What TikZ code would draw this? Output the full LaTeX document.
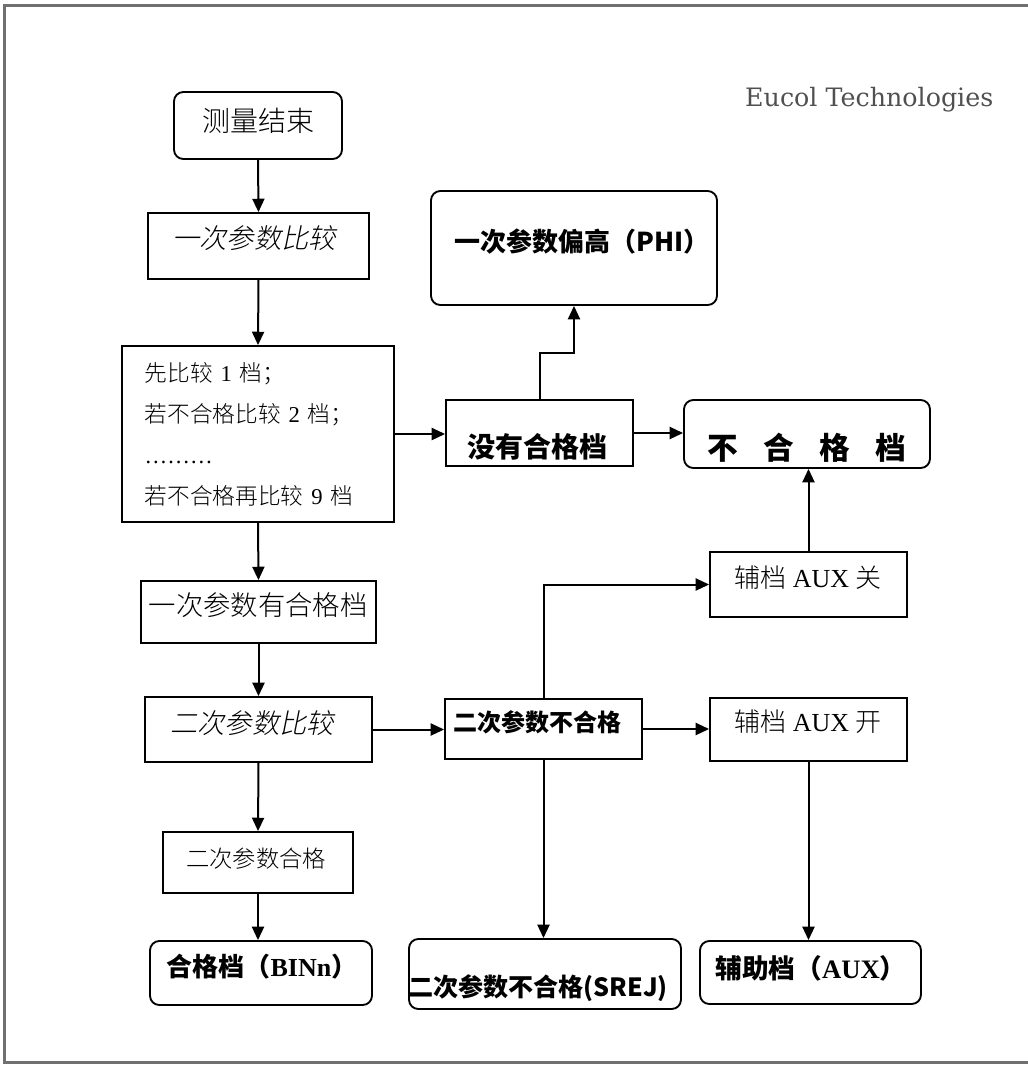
\documentclass[tikz,border=0pt]{standalone}
\usepackage{fontspec}
\setmainfont{Liberation Serif}
\newfontfamily\cjk[AutoFakeSlant=0.2]{Noto Sans CJK SC}
\newfontfamily\cjklight[AutoFakeSlant=0.2]{Noto Sans CJK SC Light}
\newfontfamily\logofont{DejaVu Serif}
\newcommand{\zh}[1]{{\cjklight #1}}
\usetikzlibrary{arrows.meta}

\begin{document}
\begin{tikzpicture}[x=0.75pt, y=-0.75pt,
    box/.style={draw, line width=1.4pt, inner sep=0pt},
    rbox/.style={box, rounded corners=7pt},
    sz/.style 2 args={minimum width=#1*0.75pt, minimum height=#2*0.75pt},
    arr/.style={line width=1.5pt, -{Triangle[length=10pt, width=9pt]}},
    thin txt/.style={font=\fontsize{#1}{#1}\selectfont\cjklight},
    slant txt/.style={font=\fontsize{#1}{#1}\selectfont\cjklight\itshape},
    bold txt/.style={font=\fontsize{#1}{#1}\selectfont\cjk\bfseries}]

% --- colors ---
\definecolor{framecol}{RGB}{112,112,112}
\definecolor{logocol}{RGB}{80,80,80}

% --- page size and frame ---
\useasboundingbox (0,0) rectangle (1028,1065);
\draw[framecol, line width=2.3pt] (1028,5.5) -- (4.5,5.5) -- (4.5,1062.5) -- (1028,1062.5);

\node[font=\fontsize{19}{19}\selectfont\logofont, logocol, anchor=east]
    (logo) at (998,100) {Eucol Technologies};

% --- left column ---
\node[rbox, sz={168}{67}] (start) at (258,125.5) {};
\node[thin txt=21] (starttxt) at (258,121) {测量结束};

\node[box, sz={221}{66}] (cmpA) at (258.5,246) {};
\node[slant txt=20.5] (cmpAtxt) at (254,238) {一次参数比较};

\node[box, sz={272}{176}] (list) at (258,434) {};
\node[font=\fontsize{17}{30.75}\selectfont, align=left, anchor=west] (listtxt) at (140,434.5)
    {\zh{先比较}\hspace{0.35em}1\hspace{0.35em}\zh{档；}\\
     \zh{若不合格比较}\hspace{0.35em}2\hspace{0.35em}\zh{档；}\\
     ………\\
     \zh{若不合格再比较}\hspace{0.35em}9\hspace{0.35em}\zh{档}};

\node[box, sz={235}{62}] (okA) at (258.5,612) {};
\node[thin txt=20.5] (okAtxt) at (258,605) {一次参数有合格档};

\node[box, sz={227}{65}] (cmpB) at (258.5,729.5) {};
\node[slant txt=20.5] (cmpBtxt) at (252,723) {二次参数比较};

\node[box, sz={190}{61}] (okB) at (258,862.5) {};
\node[thin txt=17.5] (okBtxt) at (256,859) {二次参数合格};

\node[rbox, sz={222}{64}] (bin) at (261,973) {};
\node[font=\fontsize{19.5}{19.5}\selectfont\bfseries] (bintxt) at (262,967)
    {{\cjk 合格档（}BINn{\cjk ）}};

% --- upper right ---
\node[rbox, sz={286}{114}] (phi) at (574,248) {};
\node[bold txt=19.5] (phitxt) at (582,242) {一次参数偏高（PHI）};

\node[box, sz={187}{66}] (noq) at (539.5,433) {};
\node[bold txt=21] (noqtxt) at (537,447) {没有合格档};

\node[rbox, sz={246}{68}] (rej) at (807,434) {};
\node[bold txt=23] (rejtxt) at (807,448)
    {不\hspace{19pt}合\hspace{19pt}格\hspace{19pt}档};

% --- second parameter branch ---
\node[box, sz={197}{60}] (failB) at (543.5,729) {};
\node[bold txt=18, anchor=west] (failBtxt) at (449,722) {二次参数不合格};

\node[box, sz={197}{65}] (auxOff) at (808.5,584.5) {};
\node[font=\fontsize{19.5}{19.5}\selectfont] (auxOfftxt) at (808,578)
    {\zh{辅档} AUX \zh{关}};

\node[box, sz={197}{63}] (auxOn) at (808.5,729.5) {};
\node[font=\fontsize{19.5}{19.5}\selectfont] (auxOntxt) at (808,722)
    {\zh{辅档} AUX \zh{开}};

\node[rbox, sz={272}{70}] (srej) at (545,974) {};
\node[bold txt=18.8] (srejtxt) at (538,988) {二次参数不合格(SREJ)};

\node[rbox, sz={221}{63}] (aux) at (810.5,972.5) {};
\node[font=\fontsize{20}{20}\selectfont\bfseries] (auxtxt) at (811,968)
    {{\cjk 辅助档（}AUX{\cjk ）}};

% --- connectors ---
\foreach \a/\b in {start/cmpA, cmpA/list, list/okA, okA/cmpB, cmpB/okB}
    \draw[arr] (\a.south) -- (\b.north);
\draw[arr] (okB.south) -- (okB.south |- bin.north);

\draw[arr] (list.east) -- (list.east -| noq.west);
\draw[arr] (noq.east) -- (noq.east -| rej.west);
\coordinate (phibend) at (539.5,353);
\draw[arr] (noq.north) -- (phibend) -| (phi.south);
\draw[arr] (auxOff.north) -- (auxOff.north |- rej.south);

\draw[arr] (cmpB.east) -- (cmpB.east -| failB.west);
\draw[arr] (failB.east) -- (failB.east -| auxOn.west);
\draw[arr] (failB.north) |- (auxOff.west);
\draw[arr] (failB.south) -- (failB.south |- srej.north);
\draw[arr] (auxOn.south) -- (auxOn.south |- aux.north);

\end{tikzpicture}
\end{document}
